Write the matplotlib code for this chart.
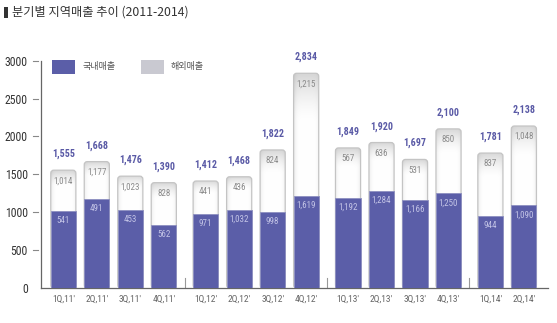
import numpy as np
import matplotlib
matplotlib.use('Agg')
import matplotlib.pyplot as plt
from matplotlib.patches import FancyBboxPatch, Rectangle
import matplotlib.transforms as mtransforms

# --- Data ---
quarters = ["1Q,11'", "2Q,11'", "3Q,11'", "4Q,11'",
            "1Q,12'", "2Q,12'", "3Q,12'", "4Q,12'",
            "1Q,13'", "2Q,13'", "3Q,13'", "4Q,13'",
            "1Q,14'", "2Q,14'"]
groups = [0, 0, 0, 0, 1, 1, 1, 1, 2, 2, 2, 2, 3, 3]
domestic = [1014, 1177, 1023, 828, 971, 1032, 998, 1215, 1192, 1284, 1166, 1250, 944, 1090]
overseas = [541, 491, 453, 562, 441, 436, 824, 1619, 657, 636, 531, 850, 837, 1048]
totals = ["1,555", "1,668", "1,476", "1,390", "1,412", "1,468", "1,822", "2,834",
          "1,849", "1,920", "1,697", "2,100", "1,781", "2,138"]
lower_labels = ["541", "491", "453", "562", "971", "1,032", "998", "1,619",
                "1,192", "1,284", "1,166", "1,250", "944", "1,090"]
upper_labels = ["1,014", "1,177", "1,023", "828", "441", "436", "824", "1,215",
                "567", "636", "531", "850", "837", "1,048"]
yticks = [0, 500, 1000, 1500, 2000, 2500, 3000]

PURPLE = '#5b5ea8'
LABEL_PURPLE = '#5a5aa6'
GREY_SW = '#c9c9d1'
NUM_FONT = ['Liberation Sans Narrow', 'DejaVu Sans Condensed', 'Roboto Condensed', 'Roboto', 'DejaVu Sans']
KR_FONT = ['Noto Sans CJK KR', 'DejaVu Sans']

W, H = 557, 323
fig = plt.figure(figsize=(W / 100, H / 100), dpi=100)
fig.patch.set_facecolor('white')

# axes placed in pixel terms
ax_left, ax_right, ax_bot, ax_top = 41, 548, 323 - 288, 323 - 60.7
ax = fig.add_axes([ax_left / W, ax_bot / H, (ax_right - ax_left) / W, (ax_top - ax_bot) / H])

x = np.arange(len(quarters)) + 0.25 * np.array(groups)
bw = 0.75

# vertical gradient image for the white (overseas) segments
grad = np.linspace(0, 1, 100)[:, None]
shade = np.clip((grad - 0.6) / 0.4, 0, 1) ** 1.6
rgb = np.ones((100, 20, 3))
rgb *= (1 - 0.16 * shade)[:, :, None]
side = np.abs(np.linspace(-1, 1, 20))[None, :] ** 6
rgb *= (1 - 0.06 * side)[:, :, None]

for xi, d, o in zip(x, domestic, overseas):
    top = d + o
    box = FancyBboxPatch((xi - bw / 2, 0), bw, top,
                         boxstyle="round,pad=0,rounding_size=0.09",
                         mutation_aspect=440, facecolor='none',
                         edgecolor='#c4c4c4', linewidth=0.9, zorder=3)
    ax.add_patch(box)
    im = ax.imshow(rgb, extent=(xi - bw / 2, xi + bw / 2, d, top), origin='lower',
                   aspect='auto', zorder=2, interpolation='bilinear')
    im.set_clip_path(box)
ax.bar(x, domestic, width=bw, color=PURPLE, edgecolor='#8d8fc0', linewidth=0.6, zorder=4)
ax.set_aspect('auto')
ax.set_xlim(-0.666, 14.47)
ax.set_ylim(0, 3000)

for xi, d, o, tl, lo, up in zip(x, domestic, overseas, totals, lower_labels, upper_labels):
    top = d + o
    ax.text(xi, top + 145, tl, ha='center', va='bottom', fontsize=7.2, fontweight='bold',
            color=LABEL_PURPLE, family=NUM_FONT, zorder=5)
    ax.text(xi, top - 140, up, ha='center', va='center', fontsize=6.5,
            color='#8a8a8a', family=NUM_FONT, zorder=5)
    ax.text(xi, d - 125, lo, ha='center', va='center', fontsize=6.5,
            color='#c3c4e6', family=NUM_FONT, zorder=5)

# group separators
for g in range(3):
    last = x[[i for i, gg in enumerate(groups) if gg == g][-1]]
    first = x[[i for i, gg in enumerate(groups) if gg == g + 1][0]]
    ax.plot([(last + first) / 2] * 2, [0, 130], color='#999999', lw=0.8, zorder=1)

# spines
for s in ['top', 'right']:
    ax.spines[s].set_visible(False)
ax.spines['left'].set_color('#666666')
ax.spines['bottom'].set_color('#666666')
ax.spines['left'].set_linewidth(0.9)
ax.spines['bottom'].set_linewidth(0.9)

ax.set_yticks(yticks)
ax.set_yticklabels([str(v) for v in yticks], family=NUM_FONT, fontsize=8.5, color='#333333')
ax.tick_params(axis='y', length=0, pad=9.5)
trans = mtransforms.blended_transform_factory(ax.transAxes, ax.transData)
for v in yticks[1:]:
    ax.plot([-8 / (ax_right - ax_left), -3 / (ax_right - ax_left)], [v, v], color='#888888',
            lw=0.8, transform=trans, clip_on=False)

ax.set_xticks(x)
ax.set_xticklabels(quarters, family=NUM_FONT, fontsize=6.8, color='#666666')
ax.tick_params(axis='x', length=0, pad=5)

# legend
fig.patches.append(Rectangle((52 / W, 1 - 74 / H), 23 / W, 13.5 / H, transform=fig.transFigure,
                             facecolor=PURPLE, edgecolor='none'))
fig.text(83 / W, 1 - 67 / H, "국내매출", family=KR_FONT, fontsize=6.5, color='#555555', va='center')
fig.patches.append(Rectangle((141 / W, 1 - 74 / H), 23 / W, 13.5 / H, transform=fig.transFigure,
                             facecolor=GREY_SW, edgecolor='none'))
fig.text(171 / W, 1 - 67 / H, "해외매출", family=KR_FONT, fontsize=6.5, color='#555555', va='center')

# title
fig.patches.append(Rectangle((4 / W, 1 - 18 / H), 3.5 / W, 11 / H, transform=fig.transFigure,
                             facecolor='#333333', edgecolor='none'))
fig.text(12 / W, 1 - 12.5 / H, "분기별 지역매출 추이 (2011-2014)", family=KR_FONT,
         fontsize=8.8, color='#333333', va='center')

fig.savefig('out.png', dpi=100)
